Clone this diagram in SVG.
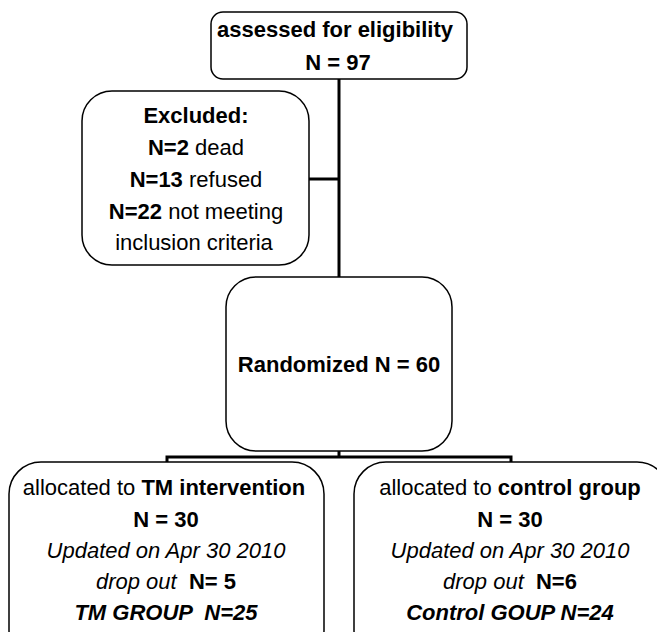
<svg xmlns="http://www.w3.org/2000/svg" width="657" height="632" viewBox="0 0 657 632">
<style>
.box{fill:#fff;stroke:#000;stroke-width:1.5}
.conn{fill:none;stroke:#000;stroke-width:3}
text{font-family:"Liberation Sans",Arial,sans-serif;font-size:22px;fill:#000;text-anchor:middle}
.b{font-weight:bold}
.i{font-style:italic}
</style>
<rect width="657" height="632" fill="#fff"/>
<g id="connectors">
<path class="conn" d="M339,79 V277"/>
<path class="conn" d="M309,179 H339"/>
<path class="conn" d="M339,451 V457"/>
<path class="conn" d="M167,463 V457 H511 V463"/>
</g>
<g id="assessed">
<rect class="box" x="211" y="12" width="256" height="67" rx="12"/>
<text x="335" y="37" class="b">assessed for eligibility</text>
<text x="338" y="70" class="b">N = 97</text>
</g>
<g id="excluded">
<rect class="box" x="82" y="91" width="227" height="174" rx="30"/>
<text x="196" y="123" class="b">Excluded:</text>
<text x="196" y="155"><tspan class="b">N=2</tspan> dead</text>
<text x="196" y="187"><tspan class="b">N=13</tspan> refused</text>
<text x="196" y="219"><tspan class="b">N=22</tspan> not meeting</text>
<text x="194" y="250">inclusion criteria</text>
</g>
<g id="randomized">
<rect class="box" x="226" y="277" width="226" height="174" rx="30"/>
<text x="339" y="372" class="b">Randomized N = 60</text>
</g>
<g id="tm">
<rect class="box" x="9" y="462" width="315" height="200" rx="32"/>
<text x="164" y="495">allocated to <tspan class="b">TM intervention</tspan></text>
<text x="166" y="527" class="b">N = 30</text>
<text x="166" y="558" class="i">Updated on Apr 30 2010</text>
<text x="166" y="589" xml:space="preserve"><tspan class="i">drop out </tspan> <tspan class="b">N= 5</tspan></text>
<text x="166" y="620" class="b i" xml:space="preserve">TM GROUP  N=25</text>
</g>
<g id="control">
<rect class="box" x="354" y="462" width="315" height="200" rx="32"/>
<text x="510" y="495">allocated to <tspan class="b">control group</tspan></text>
<text x="510" y="527" class="b">N = 30</text>
<text x="510" y="558" class="i">Updated on Apr 30 2010</text>
<text x="510" y="589" xml:space="preserve"><tspan class="i">drop out </tspan> <tspan class="b">N=6</tspan></text>
<text x="510" y="620" class="b i">Control GOUP N=24</text>
</g>
</svg>
